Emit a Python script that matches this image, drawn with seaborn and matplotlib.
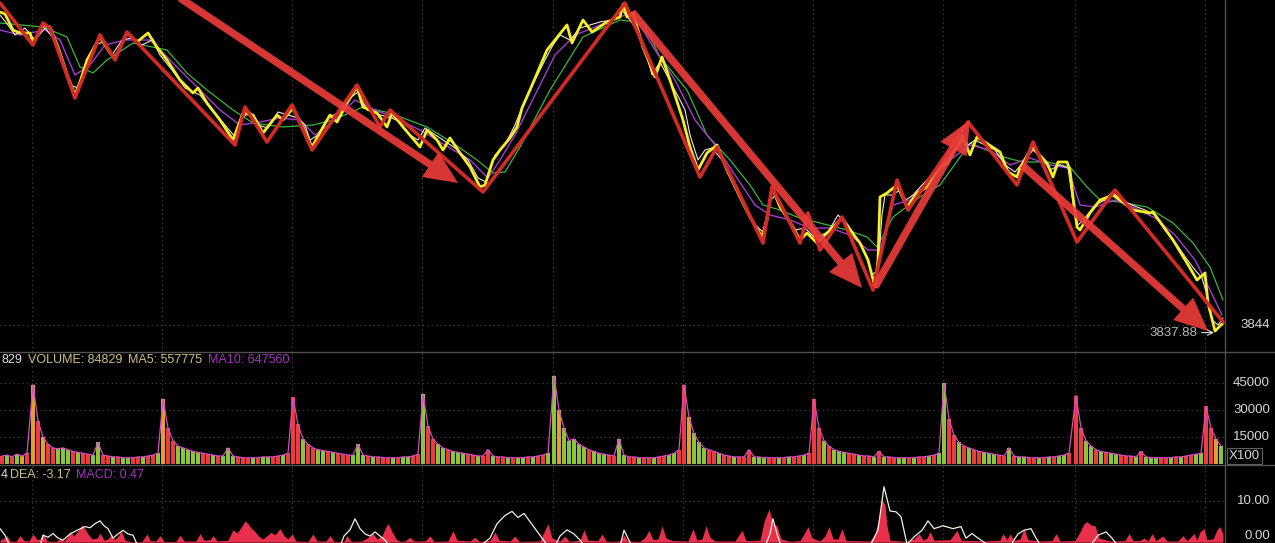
import matplotlib
matplotlib.use('Agg')
import numpy as np
import pandas as pd
import matplotlib.pyplot as plt
import seaborn as sns

# ==========================================
# Data (x = intraday minute index across 10 sessions)
# ==========================================

session_open = [32, 162, 292, 422, 553, 683, 813, 943, 1075, 1205]

# price line (yellow)
price_x = [0, 5, 13, 20, 30, 33, 43, 50, 58, 68, 75, 80, 87, 100, 110, 115, 127, 137, 148, 157,
           167, 180, 193, 198, 207, 220, 233, 243, 253, 263, 277, 283, 293, 303, 312, 323, 330, 337, 347, 357,
           363, 377, 387, 392, 403, 420, 427, 437, 443, 450, 460, 470, 480, 485, 493, 500, 510, 517, 522, 530,
           547, 567, 572, 583, 592, 607, 620, 623, 627, 633, 643, 655, 662, 670, 683, 690, 698, 707, 717, 727,
           740, 750, 762, 767, 772, 780, 793, 800, 807, 817, 823, 830, 842, 850, 860, 868, 875, 878, 880, 887,
           897, 907, 917, 927, 940, 948, 953, 963, 970, 977, 1000, 1008, 1017, 1020, 1032, 1047, 1053, 1058, 1067, 1070,
           1073, 1077, 1080, 1090, 1100, 1113, 1117, 1133, 1150, 1153, 1173, 1187, 1197, 1205, 1208, 1215, 1223]
price = [4157, 4155, 4139, 4136, 4136, 4126, 4144, 4142, 4122, 4092, 4074, 4087, 4109, 4132, 4116, 4111, 4136, 4127, 4136, 4122,
         4109, 4089, 4076, 4081, 4066, 4049, 4029, 4056, 4054, 4036, 4054, 4049, 4061, 4042, 4022, 4042, 4054, 4047, 4066, 4082,
         4062, 4056, 4042, 4056, 4042, 4022, 4039, 4029, 4019, 4031, 4016, 4002, 3982, 3984, 4009, 4019, 4031, 4042, 4061, 4079,
         4119, 4144, 4126, 4149, 4137, 4147, 4152, 4165, 4152, 4156, 4122, 4092, 4112, 4089, 4049, 4022, 3999, 4016, 4024, 3999,
         3972, 3952, 3932, 3949, 3982, 3962, 3942, 3929, 3936, 3926, 3932, 3939, 3951, 3939, 3926, 3909, 3882, 3909, 3972, 3976,
         3984, 3962, 3976, 3982, 4002, 4006, 4016, 4031, 4014, 4032, 4017, 3997, 3992, 4001, 4022, 4006, 3992, 4007, 4007, 3999,
         3972, 3942, 3939, 3956, 3969, 3974, 3971, 3959, 3956, 3957, 3929, 3906, 3889, 3896, 3866, 3838, 3846]

# thin white tick line
tick_x = [0, 8, 15, 25, 35, 45, 55, 62, 70, 78, 85, 95, 103, 112, 122, 132, 142, 152, 160, 172,
          185, 200, 210, 225, 236, 242, 250, 258, 268, 278, 288, 298, 305, 310, 318, 328, 340, 350, 358, 367,
          380, 392, 400, 410, 418, 425, 440, 455, 468, 478, 486, 495, 505, 515, 525, 535, 545, 553, 560, 570,
          580, 590, 600, 612, 622, 630, 640, 648, 652, 660, 672, 680, 685, 690, 698, 705, 712, 722, 732, 745,
          755, 763, 770, 776, 785, 795, 805, 815, 828, 838, 848, 858, 866, 872, 878, 882, 885, 892, 900, 906,
          913, 922, 932, 942, 955, 962, 968, 975, 985, 995, 1005, 1015, 1025, 1033, 1042, 1050, 1060, 1068, 1074, 1078,
          1085, 1095, 1105, 1112, 1122, 1132, 1145, 1155, 1165, 1177, 1186, 1195, 1202, 1207, 1212, 1218, 1223]
tick = [4154, 4144, 4134, 4141, 4129, 4141, 4129, 4109, 4084, 4081, 4104, 4124, 4127, 4114, 4129, 4131, 4124, 4129, 4114, 4099,
        4081, 4074, 4061, 4044, 4031, 4051, 4057, 4044, 4041, 4057, 4054, 4051, 4044, 4029, 4034, 4051, 4057, 4071, 4077, 4059,
        4054, 4051, 4047, 4034, 4029, 4041, 4031, 4021, 4009, 3991, 3987, 4014, 4024, 4044, 4069, 4089, 4109, 4124, 4134, 4129,
        4141, 4144, 4147, 4149, 4159, 4149, 4134, 4109, 4094, 4107, 4084, 4069, 4059, 4034, 4009, 4019, 4021, 4009, 3989, 3964,
        3944, 3937, 3969, 3974, 3954, 3939, 3941, 3931, 3937, 3954, 3944, 3929, 3914, 3894, 3899, 3954, 3974, 3974, 3979, 3969,
        3974, 3984, 3994, 4004, 4019, 4034, 4024, 4029, 4024, 4019, 4004, 3997, 4009, 4019, 4011, 3999, 4004, 4001, 3959, 3944,
        3951, 3964, 3969, 3977, 3969, 3964, 3959, 3954, 3939, 3924, 3911, 3899, 3891, 3874, 3849, 3844, 3851]

# moving averages
ma_fast_x = [0, 20, 45, 60, 75, 90, 105, 125, 150, 170, 195, 220, 240, 260, 280, 300, 315, 335, 355, 375,
             395, 420, 445, 470, 488, 500, 515, 535, 555, 575, 600, 625, 640, 655, 675, 695, 715, 735, 755, 770,
             790, 810, 830, 850, 868, 880, 893, 910, 930, 950, 970, 990, 1010, 1030, 1050, 1068, 1080, 1095, 1115, 1135,
             1155, 1175, 1195, 1210, 1222]
ma_fast = [4139, 4134, 4139, 4129, 4094, 4104, 4124, 4129, 4129, 4109, 4084, 4059, 4044, 4047, 4051, 4049, 4034, 4049, 4069, 4059,
           4051, 4039, 4024, 4009, 3991, 4009, 4034, 4074, 4114, 4134, 4144, 4154, 4144, 4119, 4089, 4049, 4024, 3994, 3964, 3954,
           3949, 3941, 3941, 3934, 3919, 3919, 3964, 3969, 3989, 4009, 4024, 4019, 4004, 4011, 4004, 4001, 3964, 3962, 3969, 3961,
           3951, 3934, 3909, 3879, 3854]
ma_slow_x = [0, 43, 67, 80, 93, 107, 133, 167, 187, 207, 233, 253, 283, 313, 333, 363, 390, 427, 453, 477,
             493, 505, 520, 550, 583, 620, 643, 660, 687, 707, 730, 750, 763, 780, 797, 820, 847, 867, 877, 893,
             920, 940, 953, 970, 1003, 1023, 1047, 1070, 1087, 1100, 1120, 1147, 1173, 1193, 1210, 1223]
ma_slow = [4146, 4142, 4132, 4102, 4096, 4109, 4126, 4119, 4096, 4079, 4059, 4046, 4042, 4044, 4049, 4062, 4056, 4042, 4026, 4009,
           3996, 3997, 4022, 4079, 4132, 4149, 4146, 4112, 4079, 4034, 4009, 3984, 3964, 3959, 3952, 3946, 3939, 3932, 3922, 3952,
           3972, 3984, 4002, 4026, 4012, 4007, 4007, 4002, 3982, 3969, 3967, 3962, 3946, 3926, 3902, 3869]

# hand-drawn trend zigzag (pivot points)
zig_x = [0, 33, 43, 50, 75, 100, 115, 127, 235, 245, 267, 292, 312, 357, 380, 390, 483, 625, 700, 717,
         763, 772, 800, 808, 820, 842, 873, 897, 908, 968, 1017, 1033, 1077, 1115, 1223]
zig = [4166, 4124, 4146, 4141, 4071, 4134, 4109, 4137, 4024, 4062, 4027, 4064, 4019, 4084, 4042, 4059, 3977, 4166, 3992, 4022,
       3926, 3982, 3926, 3956, 3919, 3952, 3879, 3989, 3959, 4047, 3984, 4027, 3927, 3979, 3847]

# big trend arrows: (start x, start price, end x, end price)
arrows = [(180, 4171, 458, 3986),
          (632, 4157, 862, 3881),
          (875, 3882, 970, 4049),
          (1022, 4004, 1208, 3838)]

last_price = 3844
low_price = 3837.88

# volume (x100), one list per session, 5-minute buckets
vol_pre = [4500, 5000, 4000, 5500, 4500, 6000]
vol_sessions = [
    [44000, 24000, 15000, 11000, 9000, 8500, 9000, 8000, 7000, 6500, 6000, 5500, 5000, 12000, 5000, 4500, 4000, 4000, 3500, 3500, 3500, 4000, 4000, 4500, 5000, 6000],
    [36000, 20000, 13000, 10000, 9000, 8000, 7000, 6500, 6000, 5500, 5000, 4500, 4500, 9000, 4500, 4000, 3500, 3500, 3500, 3500, 4000, 4000, 4000, 4500, 5000, 6000],
    [37000, 22000, 14000, 11000, 9000, 8000, 7500, 7000, 6500, 6000, 5500, 5000, 5000, 11000, 5000, 4500, 4000, 4000, 3500, 3500, 3500, 3500, 4000, 4000, 4500, 5500],
    [39000, 21000, 14000, 11000, 9000, 8000, 7000, 6500, 6000, 5500, 5000, 4500, 4500, 8000, 4500, 4000, 4000, 3500, 3500, 3500, 3500, 4000, 4000, 4500, 5000, 6000],
    [49000, 30000, 20000, 13000, 14000, 11000, 9500, 8000, 7000, 6000, 5500, 5000, 4500, 14000, 5000, 4000, 4000, 3500, 3500, 3500, 3500, 4000, 4500, 5000, 6000, 8000],
    [44000, 26000, 17000, 12000, 9000, 8000, 7000, 6000, 5000, 4500, 4000, 4000, 4000, 8000, 4000, 4000, 3500, 3500, 3500, 3500, 3500, 4000, 4000, 4500, 5000, 6000],
    [36000, 20000, 13000, 10000, 8000, 7000, 6500, 6000, 5500, 5000, 4500, 4500, 4000, 7000, 4000, 4000, 3500, 3500, 3500, 3500, 3500, 4000, 4000, 4500, 5000, 6000],
    [45000, 25000, 16000, 12000, 10000, 9000, 8000, 7000, 6500, 6000, 5500, 5000, 4500, 9000, 4500, 4000, 4000, 3500, 3500, 3500, 3500, 4000, 4000, 4500, 5000, 6000],
    [38000, 20000, 13000, 10000, 8000, 7000, 6500, 6000, 5500, 5000, 4500, 4500, 4000, 7000, 4000, 3500, 3500, 3500, 3500, 3500, 4000, 4000, 4500, 5000, 5500, 6000],
    [32000, 20000, 14000, 10000],
]
# bar colour codes: r = up, g = down, o = flat
vol_pre_dir = "rgrgor"
vol_dirs = [
    "ororrgggrgrrggrrgrggrrgrrg",
    "orrgggggrrgrgggrrrgrggrrgr",
    "rrgrrggrgrrrgggrgrrrgrggrr",
    "grrggrgggrrgrrgrrgrggrgrrg",
    "gogggggrgggrrggrrgrrgrrggr",
    "rogggrrgrrgrrrgggrrgrgrrgr",
    "rrgrgggrrgrrgrgrrggrgrrgrg",
    "grrgrgrrgggrrgrggrrgrgrggr",
    "rrggrgrggrrrgrgggrrgrgrrgg",
    "rrog",
]

# MACD histogram and DIF line
macd_x = [0, 4, 7, 10, 16, 20, 24, 29, 33, 37, 40, 43, 47, 56, 60, 64, 67, 70, 74, 78,
          82, 85, 88, 92, 97, 100, 104, 108, 111, 115, 119, 121, 125, 132, 142, 147, 150, 156, 160, 164,
          176, 180, 184, 196, 200, 204, 210, 213, 217, 228, 233, 237, 241, 245, 248, 251, 255, 259, 263, 267,
          271, 275, 280, 284, 288, 292, 296, 308, 313, 317, 326, 330, 334, 344, 347, 351, 362, 367, 373, 377,
          382, 386, 388, 392, 396, 400, 405, 410, 414, 425, 430, 434, 448, 453, 457, 470, 475, 479, 490, 495,
          499, 510, 515, 519, 540, 545, 548, 552, 560, 565, 569, 580, 584, 588, 598, 602, 606, 612, 620, 624,
          628, 640, 645, 649, 653, 658, 662, 666, 672, 688, 693, 697, 702, 706, 710, 715, 735, 742, 746, 760,
          764, 769, 773, 777, 781, 790, 800, 804, 808, 812, 820, 825, 829, 833, 838, 842, 846, 870, 875, 880,
          882, 885, 887, 890, 905, 914, 919, 923, 927, 930, 934, 950, 957, 961, 985, 1000, 1003, 1007, 1010, 1014,
          1020, 1024, 1028, 1040, 1052, 1056, 1060, 1075, 1080, 1084, 1087, 1091, 1095, 1099, 1110, 1125, 1129, 1133, 1140, 1144,
          1148, 1152, 1156, 1163, 1167, 1178, 1183, 1187, 1194, 1197, 1200, 1204, 1207, 1213, 1217, 1220, 1223]
macd_hist = [0.5, 1.0, 1.6, 0.3, 0.2, 1.6, 0.4, 0.3, 2.0, 0.6, 0.8, 2.2, 0.3, 0.2, 0.8, 0.3, 1.2, 2.6, 1.5, 2.8,
             4.2, 3.2, 2.0, 0.8, 1.0, 2.2, 0.5, 0.8, 1.7, 0.6, 1.8, 2.9, 0.5, 0.1, 0.2, 2.0, 0.4, 0.3, 1.6, 0.2,
             0.2, 1.7, 0.3, 0.3, 2.1, 0.5, 0.6, 1.6, 0.3, 0.5, 3.0, 2.2, 3.6, 5.2, 4.5, 3.5, 2.6, 1.4, 0.8, 1.6,
             2.4, 1.8, 3.3, 1.6, 0.8, 2.0, 0.3, 0.2, 2.0, 0.3, 0.3, 1.6, 0.2, 0.2, 1.6, 0.2, 0.3, 1.0, 2.1, 0.8,
             1.5, 3.8, 4.5, 2.6, 0.8, 0.2, 0.3, 1.2, 0.3, 0.3, 1.5, 0.2, 0.3, 2.8, 0.5, 0.3, 1.2, 0.2, 0.4, 2.5,
             0.5, 0.3, 1.5, 0.2, 0.3, 3.0, 4.5, 1.0, 0.3, 1.5, 0.2, 0.5, 3.0, 0.5, 0.4, 2.0, 0.3, 0.2, 0.3, 1.7,
             0.3, 0.2, 1.2, 2.9, 0.6, 0.8, 4.0, 1.0, 0.4, 0.3, 3.3, 0.5, 0.8, 4.0, 1.2, 0.3, 0.3, 2.9, 0.4, 0.5,
             5.0, 8.1, 4.5, 4.0, 0.8, 0.2, 0.4, 2.0, 3.8, 1.0, 0.3, 1.5, 3.8, 0.8, 0.8, 3.3, 0.4, 0.3, 2.0, 7.0,
             10.5, 9.0, 4.0, 0.5, 0.2, 0.8, 2.1, 0.5, 1.0, 2.6, 0.5, 0.6, 2.9, 0.5, 0.3, 0.5, 2.1, 0.6, 2.0, 0.4,
             0.8, 3.3, 0.6, 0.3, 0.4, 2.1, 0.3, 0.4, 2.5, 4.5, 5.0, 4.2, 4.0, 1.0, 0.3, 0.4, 2.1, 0.4, 0.4, 1.0,
             0.3, 2.1, 0.4, 1.5, 0.3, 0.3, 1.6, 0.3, 2.1, 0.5, 2.5, 3.3, 0.6, 0.8, 3.0, 3.8, 2.0]
dif_x = [0, 5, 10, 40, 43, 48, 53, 58, 63, 70, 78, 85, 90, 95, 100, 104, 108, 113, 118, 123, 128, 133, 138,
         340, 344, 350, 355, 360, 365, 370, 375, 380, 385, 390,
         480, 490, 497, 505, 512, 518, 524, 530, 536, 542, 548, 555, 560, 567, 574, 580, 585,
         620, 624, 631,
         765, 770, 773, 777, 781,
         870, 878, 884, 890, 896, 901, 907, 915, 922, 928, 934, 943, 953, 961, 966, 972, 978, 987,
         1010, 1018, 1024, 1031, 1036, 1041,
         1090, 1098, 1106, 1112, 1118]
dif = [3.3, 1.7, -1, -1, 1.7, 1.2, 2.1, 1.0, 0.5, 2.0, 3.0, 3.8, 3.5, 4.5, 5.2, 4.0, 3.3, 1.0, 2.0, 2.9, 2.0, 1.7, -1,
       -1, 1.5, 3.0, 5.7, 3.3, 2.0, 1.5, 2.5, 1.5, 0.5, -1,
       -1, 1.0, 4.5, 6.5, 7.5, 6.0, 7.0, 5.0, 3.0, 1.0, -1, -1, 1.5, 3.0, 2.0, 0.5, -1,
       -1, 2.9, -0.5,
       -1, 2.0, 5.7, 2.0, -0.8,
       -1, 3.0, 13.5, 7.6, 7.4, 6.2, -0.5, 1.5, 2.9, 5.2, 3.3, 4.0, 3.3, 3.8, 1.0, 2.1, 1.0, -0.5,
       -1, 2.0, 2.9, 3.3, 1.0, -1,
       -1, 1.7, 2.5, 1.0, -1]

# ==========================================
# Style
# ==========================================

sns.set_theme(style='dark', rc={'axes.facecolor': 'black', 'figure.facecolor': 'black',
                                'axes.edgecolor': 'black', 'axes.grid': False})
plt.rcParams['font.family'] = ['Liberation Sans', 'DejaVu Sans']

W, H = 1275, 543
fig = plt.figure(figsize=(W / 100, H / 100), dpi=100)
right = 1225 / W
ax_p = fig.add_axes([0, 1 - 352 / H, right, 352 / H])
ax_v = fig.add_axes([0, 1 - 465 / H, right, 113 / H])
ax_m = fig.add_axes([0, 0, right, 78 / H])

grid_kw = dict(color='#4a4a4a', lw=0.8, ls=(0, (1, 3)), zorder=0)
for ax in (ax_p, ax_v, ax_m):
    ax.set_facecolor('black')
    ax.set_xlim(0, 1225)
    ax.set_xticks([])
    ax.set_yticks([])
    for s in ax.spines.values():
        s.set_visible(False)
    for x in session_open:
        ax.axvline(x, **grid_kw)

lab_kw = dict(color='#d8d8d8', fontsize=9.5, ha='right', va='center', clip_on=False)

# ==========================================
# Price panel
# ==========================================

ax_p.set_ylim(3817, 4169)
ax_p.axhline(last_price, **grid_kw)
line_kw = dict(ax=ax_p, estimator=None, sort=False, legend=False)
sns.lineplot(x=ma_slow_x, y=ma_slow, color='#3cb43c', lw=0.9, **line_kw)
sns.lineplot(x=ma_fast_x, y=ma_fast, color='#a43cd0', lw=1.0, **line_kw)
sns.lineplot(x=tick_x, y=tick, color='#f2e4e4', lw=0.8, **line_kw)
sns.lineplot(x=price_x, y=price, color='#f4ee28', lw=2.0, **line_kw)
sns.lineplot(x=zig_x, y=zig, color='#d42a26', lw=2.6, **line_kw)

for x0, y0, x1, y1 in arrows:
    ax_p.annotate('', xy=(x1, y1), xytext=(x0, y0), annotation_clip=False,
                  arrowprops=dict(arrowstyle='simple,head_length=2.0,head_width=1.8,tail_width=0.45',
                                  mutation_scale=12, color='#ea3c3a', alpha=0.92,
                                  shrinkA=0, shrinkB=0, lw=0))

ax_p.annotate(f'{low_price:.2f}', xy=(1214, low_price - 1.5), xytext=(1197, low_price - 1.5),
              color='#b8b8b8', fontsize=9.5, ha='right', va='center',
              arrowprops=dict(arrowstyle='->', color='#e0e0e0', lw=0.8, shrinkA=1, shrinkB=0))
ax_p.text(1270 / 1225, last_price, str(last_price), transform=ax_p.get_yaxis_transform(), **lab_kw)

# ==========================================
# Volume panel
# ==========================================

dir_colors = {'r': '#ec3c3c', 'g': '#8cc43a', 'o': '#e0a030'}
vol_x, vol_y, vol_c = [], [], []
for i, (v, d) in enumerate(zip(vol_pre, vol_pre_dir)):
    vol_x.append(2 + 5 * i)
    vol_y.append(v)
    vol_c.append(dir_colors[d])
for s, vals, dirs in zip(session_open, vol_sessions, vol_dirs):
    for i, (v, d) in enumerate(zip(vals, dirs)):
        vol_x.append(s + 1 + 5 * i)
        vol_y.append(v)
        vol_c.append(dir_colors[d])

ax_v.set_ylim(-500, 62200)
for lvl in (15000, 30000, 45000):
    ax_v.axhline(lvl, **grid_kw)
    ax_v.text(1270 / 1225, lvl, str(lvl), transform=ax_v.get_yaxis_transform(), **lab_kw)
ax_v.bar(vol_x, vol_y, width=4, color=vol_c, linewidth=0, zorder=2)
sns.lineplot(x=vol_x, y=vol_y, ax=ax_v, color='#d84cc8', lw=0.9, estimator=None, sort=False, legend=False)

# ==========================================
# MACD panel
# ==========================================

ax_m.set_ylim(-0.2, 18.8)
ax_m.axhline(10, **grid_kw)
ax_m.fill_between(macd_x, 0, macd_hist, color='#e8304c', lw=0, zorder=2)
sns.lineplot(x=dif_x, y=dif, ax=ax_m, color='#f2f0e0', lw=0.9, estimator=None, sort=False, legend=False)
ax_m.text(1270 / 1225, 10, '10.00', transform=ax_m.get_yaxis_transform(), **lab_kw)
ax_m.text(1270 / 1225, 1.6, '0.00', transform=ax_m.get_yaxis_transform(), **lab_kw)

# ==========================================
# Frame lines and header texts
# ==========================================

sep = '#505050'
fig.add_artist(plt.Line2D([0, 1], [1 - 352 / H] * 2, color=sep, lw=1))
fig.add_artist(plt.Line2D([0, 1], [1 - 465 / H] * 2, color=sep, lw=1))
fig.add_artist(plt.Line2D([right, right], [0, 1], color=sep, lw=1))

def header(x, y, s, color):
    fig.text(x / W, 1 - y / H, s, color=color, fontsize=9, va='center', ha='left')

header(1, 360, '829', '#e0e0e0')
header(28, 360, 'VOLUME: 84829', '#d0c080')
header(128, 360, 'MA5: 557775', '#d0c080')
header(208, 360, 'MA10: 647560', '#a830c0')
header(1, 475, '4', '#e0e0e0')
header(10, 475, 'DEA: -3.17', '#d0c080')
header(76, 475, 'MACD: 0.47', '#a830c0')

fig.text(1229 / W, 1 - 456 / H, 'X100', color='#d8d8d8', fontsize=9.5, va='center', ha='left',
         bbox=dict(boxstyle='square,pad=0.15', fc='black', ec='#606060', lw=0.8))

fig.savefig('out.png', dpi=100, facecolor='black')
